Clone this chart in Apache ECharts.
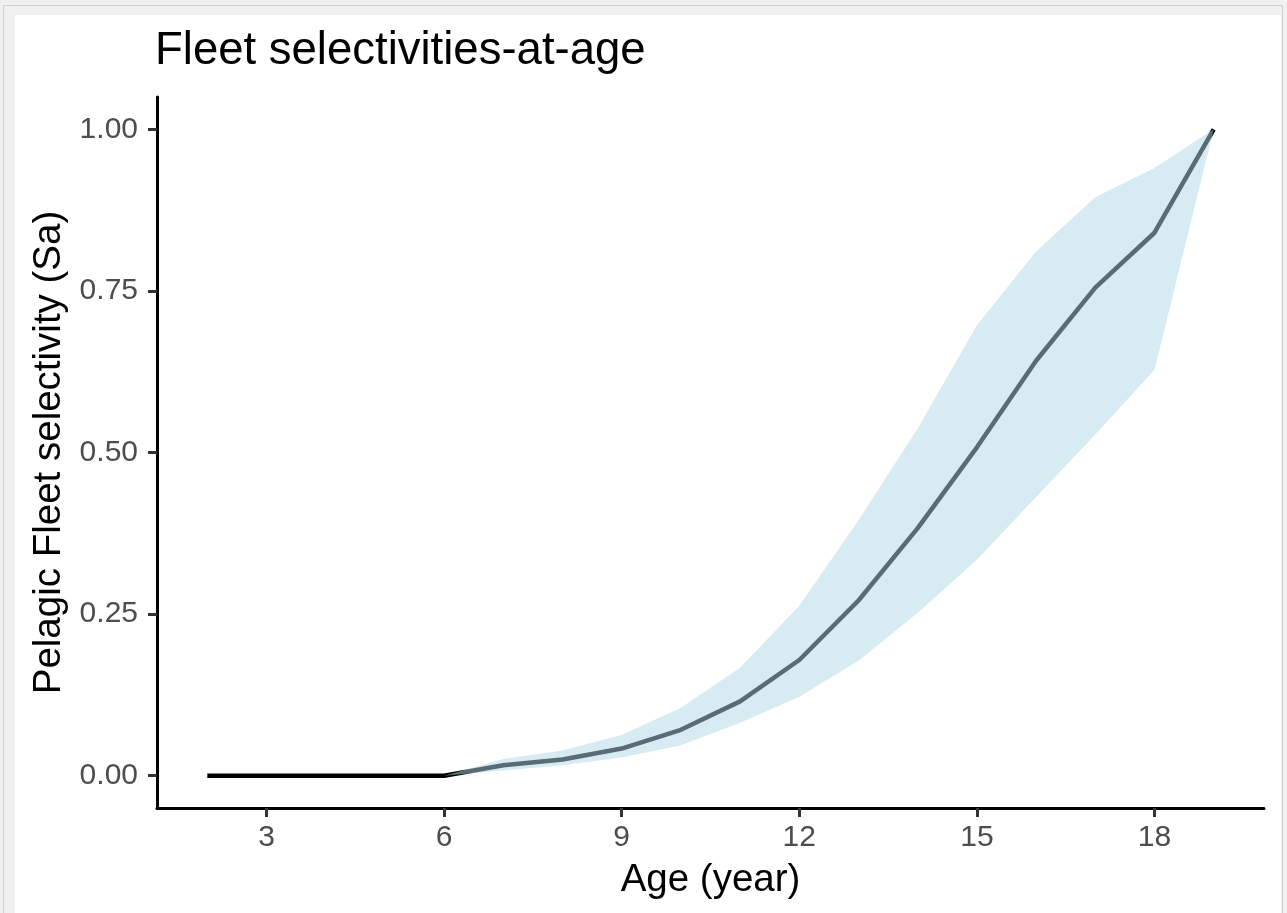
<!DOCTYPE html>
<html>
<head>
<meta charset="utf-8">
<script src="https://cdn.jsdelivr.net/npm/echarts@6/dist/echarts.min.js"></script>
<style>
  html, body { margin: 0; padding: 0; width: 1287px; height: 913px; overflow: hidden; background: #f0f0f0; }
  #frame { position: absolute; left: 3px; top: 5px; width: 1278px; height: 920px; border-left: 1px solid #cfcfcf; border-top: 1px solid #cfcfcf; border-right: 1px solid #cfcfcf; background: #f0f0f0; }
  #panel { position: absolute; left: 15px; top: 15px; width: 1266px; height: 898px; background: #ffffff; }
  #chart { position: absolute; left: 0; top: 0; width: 1287px; height: 913px; }
</style>
</head>
<body>
<div id="frame"></div>
<div id="panel"></div>
<div id="chart"></div>
<script>
// ---- data ----
const ages       = [2, 3, 4, 5, 6, 7, 8, 9, 10, 11, 12, 13, 14, 15, 16, 17, 18, 19];
const selectMean = [0, 0, 0, 0, 0, 0.016, 0.025, 0.042, 0.071, 0.115, 0.179, 0.271, 0.383, 0.508, 0.642, 0.755, 0.840, 1.0];
const selectLow  = [0, 0, 0, 0, 0, 0.008, 0.016, 0.028, 0.047, 0.082, 0.122, 0.178, 0.252, 0.334, 0.431, 0.528, 0.628, 1.0];
const selectHigh = [0, 0, 0, 0, 0, 0.026, 0.039, 0.063, 0.105, 0.167, 0.263, 0.395, 0.537, 0.697, 0.811, 0.895, 0.940, 1.0];
const xTicks = [3, 6, 9, 12, 15, 18];
const yTicks = [0, 0.25, 0.5, 0.75, 1.0];
const titleText = 'Fleet selectivities-at-age';
const xTitle = 'Age (year)';
const yTitle = 'Pelagic Fleet selectivity (Sa)';

const meanData = ages.map((a, i) => [a, selectMean[i]]);
const bandData = ages.map((a, i) => [a, selectLow[i], selectHigh[i]]);

const FONT = '"Liberation Sans", Arial, Helvetica, sans-serif';
const chart = echarts.init(document.getElementById('chart'), null, { renderer: 'canvas' });
chart.setOption({
  animation: false,
  backgroundColor: 'transparent',
  title: {
    text: titleText,
    left: 155, top: 28, padding: 0,
    textStyle: { fontFamily: FONT, fontSize: 45.5, fontWeight: 'normal', color: '#000' }
  },
  grid: { left: 157, right: 23, top: 97, bottom: 105, containLabel: false },
  xAxis: {
    type: 'value', min: 1.15, max: 19.85,
    name: xTitle, nameLocation: 'middle', nameGap: 53,
    nameTextStyle: { fontFamily: FONT, fontSize: 38.5, color: '#000' },
    axisLine: { onZero: false, lineStyle: { color: '#000', width: 3 } },
    axisTick: { show: true, length: 9, customValues: xTicks, lineStyle: { color: '#333', width: 3 } },
    axisLabel: { customValues: xTicks, margin: 15, fontFamily: FONT, fontSize: 30, color: '#4d4d4d' },
    splitLine: { show: false }
  },
  yAxis: {
    type: 'value', min: -0.05, max: 1.05,
    name: yTitle, nameLocation: 'middle', nameGap: 84,
    nameTextStyle: { fontFamily: FONT, fontSize: 38.5, color: '#000' },
    axisLine: { show: true, onZero: false, lineStyle: { color: '#000', width: 3 } },
    axisTick: { show: true, length: 9, customValues: yTicks, lineStyle: { color: '#333', width: 3 } },
    axisLabel: { customValues: yTicks, margin: 19, fontFamily: FONT, fontSize: 30, color: '#4d4d4d',
      formatter: v => v.toFixed(2) },
    splitLine: { show: false }
  },
  series: [
    {
      type: 'line', data: meanData, z: 2, silent: true,
      symbol: 'none', lineStyle: { color: '#000', width: 4.5 }
    },
    {
      type: 'custom', data: bandData, z: 3, silent: true,
      encode: { x: 0, y: [1, 2] },
      renderItem: function (params, api) {
        if (params.dataIndex !== 0) return null;
        const upper = [], lower = [];
        for (let i = 0; i < ages.length; i++) {
          upper.push(api.coord([ages[i], selectHigh[i]]));
          lower.push(api.coord([ages[i], selectLow[i]]));
        }
        return {
          type: 'polygon',
          shape: { points: upper.concat(lower.reverse()) },
          style: { fill: '#add8e6', opacity: 0.5 }
        };
      }
    }
  ]
});
</script>
</body>
</html>
